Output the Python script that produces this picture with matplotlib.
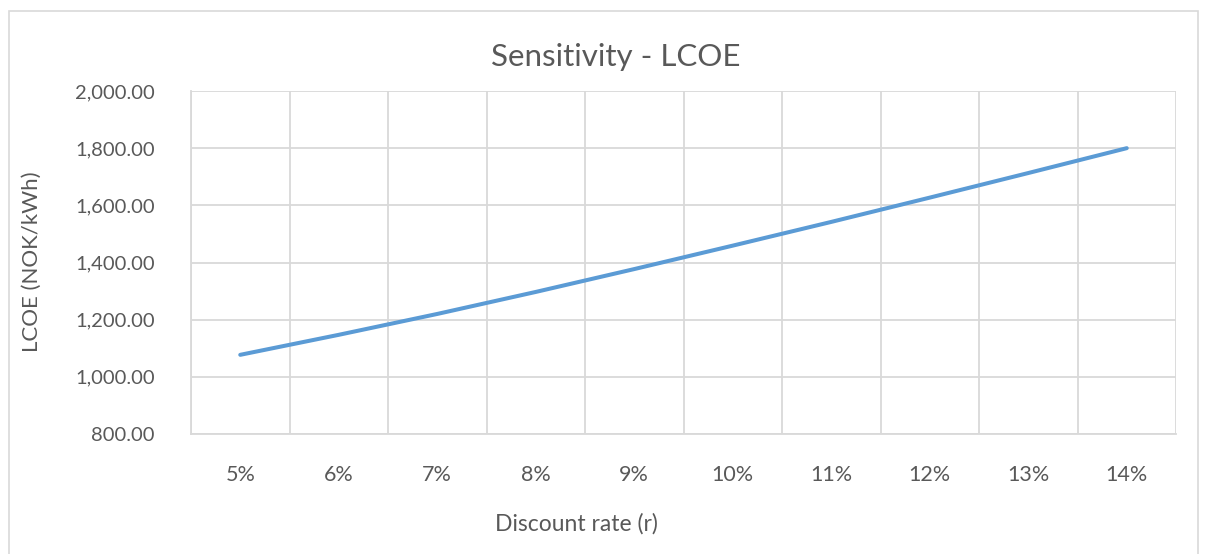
import matplotlib.pyplot as plt
from matplotlib.patches import Rectangle
from matplotlib.ticker import FuncFormatter, MultipleLocator
import numpy as np

plt.rcParams["font.family"] = ["Lato", "DejaVu Sans"]

# discount rate categories and LCOE values
rates = ["5%", "6%", "7%", "8%", "9%", "10%", "11%", "12%", "13%", "14%"]
lcoe = [1077, 1147, 1220, 1297, 1377, 1459, 1542, 1627, 1713, 1800]

grid_col = "#d9d9d9"
text_col = "#595959"

W, H = 1210, 554
fig = plt.figure(figsize=(W / 100, H / 100), dpi=100)
ax = fig.add_axes([191 / W, 1 - 434 / H, (1176 - 191) / W, (434 - 91) / H])

# outer chart border
fig.patches.append(
    Rectangle((9 / W, -0.05), (1198 - 9) / W, 1 - 11 / H + 0.05,
              transform=fig.transFigure, fill=False, edgecolor=grid_col, lw=1.2)
)

x = np.arange(len(rates))
ax.plot(x, lcoe, color="#5b9bd5", lw=2.9, solid_capstyle="round", zorder=3)

ax.set_xlim(-0.5, len(rates) - 0.5)
ax.set_ylim(800, 2000)
ax.set_xticks(x)
ax.set_xticklabels(rates)
ax.set_xticks(np.arange(-0.5, len(rates), 1), minor=True)
ax.yaxis.set_major_locator(MultipleLocator(200))
ax.yaxis.set_major_formatter(FuncFormatter(lambda v, p: f"{v:,.2f}"))

ax.grid(axis="y", which="major", color=grid_col, lw=1.3)
ax.grid(axis="x", which="minor", color=grid_col, lw=1.3)
ax.set_axisbelow(True)
for s in ax.spines.values():
    s.set_color(grid_col)
    s.set_linewidth(1.3)
ax.spines["top"].set_visible(False)
ax.spines["right"].set_visible(False)

ax.tick_params(axis="both", which="both", length=0, colors=text_col)
ax.tick_params(axis="x", labelsize=15.5, pad=22)
ax.tick_params(axis="y", labelsize=14.5, pad=26)

fig.text(616 / W, 1 - 57 / H, "Sensitivity - LCOE", fontsize=22.5,
         color=text_col, ha="center", va="center")
fig.text(576 / W, 1 - 524 / H, "Discount rate (r)", fontsize=16.5,
         color=text_col, ha="center", va="center")
fig.text(32 / W, 1 - 262 / H, "LCOE (NOK/kWh)", fontsize=16, rotation=90,
         color=text_col, ha="center", va="center")

fig.savefig("out.png", dpi=100)
